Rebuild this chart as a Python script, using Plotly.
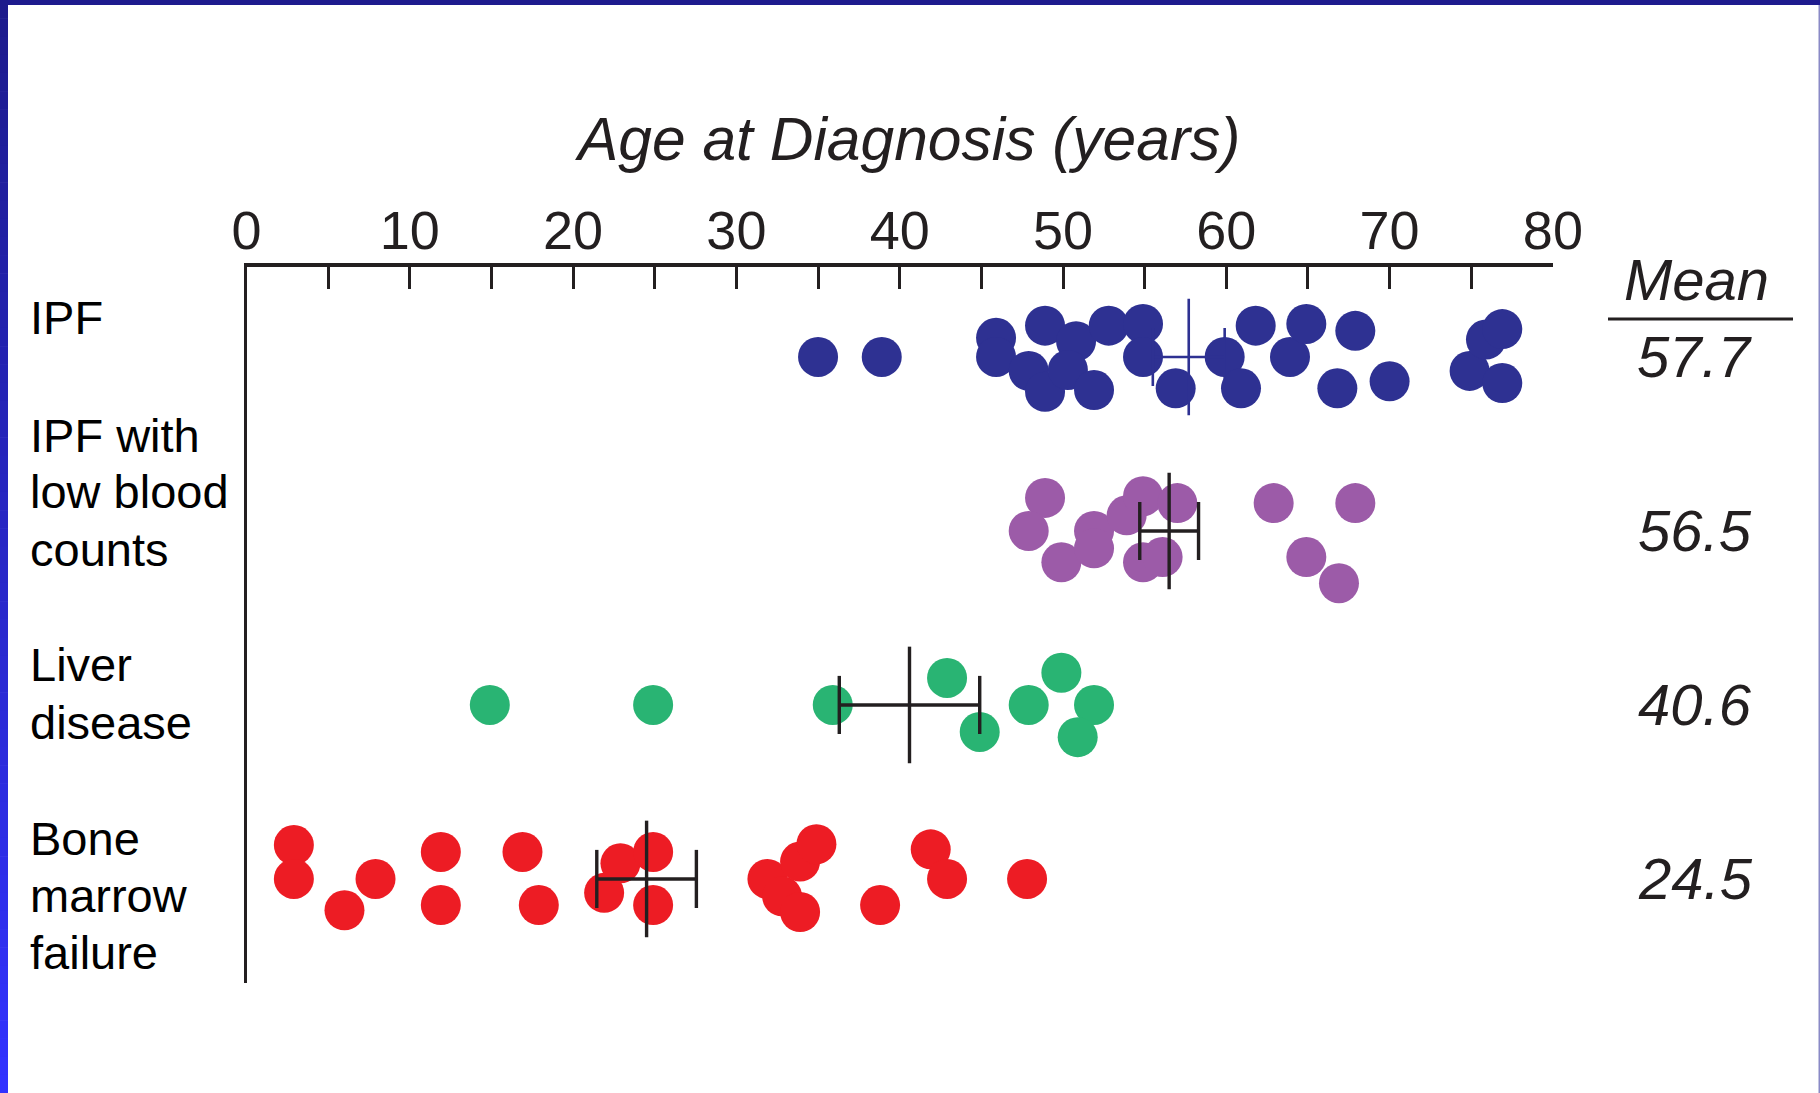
import plotly.graph_objects as go

W, H = 1820, 1093

# ---------------- data ----------------
group_names = ["IPF", "IPF with low blood counts", "Liver disease", "Bone marrow failure"]

ipf_age = [35.0, 38.9, 45.9, 45.9, 47.9, 48.9, 48.9, 50.8, 50.3, 51.9, 52.8, 54.9, 54.9,
           56.9, 59.9, 60.9, 61.8, 63.9, 64.9, 66.8, 67.9, 70.0, 74.9, 75.9, 76.9, 76.9]
ipf_lane = [0.0, 0.0, -0.11, 0.0, 0.08, -0.18, 0.20, -0.09, 0.075, 0.19, -0.18, -0.19, 0.0,
            0.18, 0.0, 0.18, -0.18, 0.0, -0.19, 0.18, -0.15, 0.14, 0.08, -0.10, -0.16, 0.15]

lowbc_age = [48.9, 47.9, 49.9, 51.9, 51.9, 53.9, 54.9, 54.9, 56.1, 57.0, 62.9, 64.9, 66.9, 67.9]
lowbc_lane = [-0.19, 0.0, 0.18, 0.0, 0.10, -0.09, -0.20, 0.18, 0.15, -0.16, -0.16, 0.15, 0.30, -0.16]

liver_age = [14.9, 24.9, 35.9, 42.9, 44.9, 47.9, 49.9, 51.9, 50.9]
liver_lane = [0.0, 0.0, 0.0, -0.155, 0.155, 0.0, -0.185, 0.0, 0.185]

bmf_age = [2.9, 2.9, 6.0, 7.9, 11.9, 11.9, 16.9, 17.9, 21.9, 22.9, 24.9, 24.9, 31.9, 32.8,
           33.9, 33.9, 34.9, 38.8, 41.9, 42.9, 47.8]
bmf_lane = [-0.195, 0.0, 0.18, 0.0, -0.155, 0.15, -0.155, 0.15, 0.08, -0.09, -0.155, 0.15, 0.0, 0.10,
            -0.10, 0.19, -0.20, 0.15, -0.17, 0.0, 0.0]

group_means = [57.7, 56.5, 40.6, 24.5]
group_sems = [2.2, 1.8, 4.3, 3.05]
mean_labels = ["57.7", "56.5", "40.6", "24.5"]

tick_values = [0, 5, 10, 15, 20, 25, 30, 35, 40, 45, 50, 55, 60, 65, 70, 75, 80]
tick_labels = ["0", "", "10", "", "20", "", "30", "", "40", "", "50", "", "60", "", "70", "", "80"]

# ---------------- styles ----------------
dot_colors = ["#2e3192", "#9c5ba8", "#29b473", "#ed1c24"]
cross_colors = ["#2e3192", "#231f20", "#231f20", "#231f20"]
cross_widths = [2.6, 3.4, 3.4, 3.4]
INK = "#231f20"
FONT = "Liberation Sans, Arial, Helvetica, sans-serif"

def px_x(p):
    return p / W

def px_y(p):
    return 1 - p / H

X0_PX, X80_PX = 246.5, 1552.9
Y_TOP_PX, Y_BOT_PX = 267, 983
Y_TOP_VAL, Y_BOT_VAL = -0.517, 3.598

fig = go.Figure()

series = [(ipf_age, ipf_lane), (lowbc_age, lowbc_lane), (liver_age, liver_lane), (bmf_age, bmf_lane)]
for gi, (ages, lanes) in enumerate(series):
    fig.add_trace(go.Scatter(
        x=ages, y=[gi + l for l in lanes], mode="markers",
        marker=dict(size=40, color=dot_colors[gi], line=dict(width=0)),
        name=group_names[gi], showlegend=False, hoverinfo="x"))

CAP = 0.167
VBAR = 0.335
for gi, (m, s) in enumerate(zip(group_means, group_sems)):
    xs = [m - s, m + s, None, m - s, m - s, None, m + s, m + s, None, m, m]
    ys = [gi, gi, None, gi - CAP, gi + CAP, None, gi - CAP, gi + CAP, None, gi - VBAR, gi + VBAR]
    fig.add_trace(go.Scatter(x=xs, y=ys, mode="lines",
                             line=dict(color=cross_colors[gi], width=cross_widths[gi]),
                             showlegend=False, hoverinfo="skip"))

annotations = []
# axis title
annotations.append(dict(text="Age at Diagnosis (years)", x=px_x(907), y=px_y(139), xref="paper", yref="paper",
                        showarrow=False, xanchor="center", yanchor="middle",
                        font=dict(family=FONT, size=60.5, color=INK, style="italic")))
# row labels
row_lines = [("IPF", 317), ("IPF with", 435), ("low blood", 492), ("counts", 549),
             ("Liver", 664), ("disease", 722), ("Bone", 838), ("marrow", 895), ("failure", 952)]
for txt, yp in row_lines:
    annotations.append(dict(text=txt, x=px_x(28), y=px_y(yp), xref="paper", yref="paper",
                            showarrow=False, xanchor="left", yanchor="middle",
                            font=dict(family=FONT, size=47, color="#000000")))
# mean column
annotations.append(dict(text="Mean", x=px_x(1696), y=px_y(279), xref="paper", yref="paper",
                        showarrow=False, xanchor="center", yanchor="middle",
                        font=dict(family=FONT, size=58, color=INK, style="italic")))
for gi, lab in enumerate(mean_labels):
    annotations.append(dict(text=lab, x=px_x(1695), y=gi, xref="paper", yref="y",
                            showarrow=False, xanchor="center", yanchor="middle",
                            font=dict(family=FONT, size=58, color=INK, style="italic")))

shapes = []
# mean underline
shapes.append(dict(type="line", xref="paper", yref="paper", x0=px_x(1608), x1=px_x(1793),
                   y0=px_y(319), y1=px_y(319), line=dict(color=INK, width=3)))
# frame: top bar
shapes.append(dict(type="rect", xref="paper", yref="paper", x0=0, x1=1, y0=px_y(5), y1=1,
                   fillcolor="#1e1b8e", line=dict(width=0), layer="above"))
# right thin line
shapes.append(dict(type="rect", xref="paper", yref="paper", x0=px_x(1818.5), x1=1, y0=0, y1=px_y(5),
                   fillcolor="#8a8ac6", line=dict(width=0), layer="above"))
# left gradient bar
N = 60
c_top = (29, 27, 140)
c_bot = (50, 50, 255)
for i in range(N):
    t = i / (N - 1)
    c = tuple(round(a + (b - a) * t) for a, b in zip(c_top, c_bot))
    y0p = H * i / N
    y1p = H * (i + 1) / N + 0.6
    shapes.append(dict(type="rect", xref="paper", yref="paper", x0=0, x1=px_x(8),
                       y0=px_y(min(y1p, H)), y1=px_y(y0p),
                       fillcolor="rgb(%d,%d,%d)" % c, line=dict(width=0), layer="above"))

fig.update_layout(
    width=W, height=H, autosize=False, margin=dict(l=0, r=0, t=0, b=0, pad=0),
    paper_bgcolor="white", plot_bgcolor="white",
    showlegend=False,
    xaxis=dict(domain=[px_x(X0_PX), px_x(X80_PX)], range=[0, 80], side="top",
               automargin=False,
               showline=True, linewidth=4, linecolor=INK,
               showgrid=False, zeroline=False,
               tickmode="array", tickvals=tick_values, ticktext=tick_labels,
               ticks="inside", ticklen=22, tickwidth=2.5, tickcolor=INK,
               ticklabelstandoff=-8,
               tickfont=dict(family=FONT, size=54, color=INK)),
    yaxis=dict(domain=[px_y(Y_BOT_PX), px_y(Y_TOP_PX)], range=[Y_BOT_VAL, Y_TOP_VAL],
               automargin=False,
               showline=True, linewidth=2.5, linecolor=INK,
               showgrid=False, zeroline=False, showticklabels=False, ticks=""),
    annotations=annotations, shapes=shapes,
)

fig.write_html("out.html", config={"responsive": False})
